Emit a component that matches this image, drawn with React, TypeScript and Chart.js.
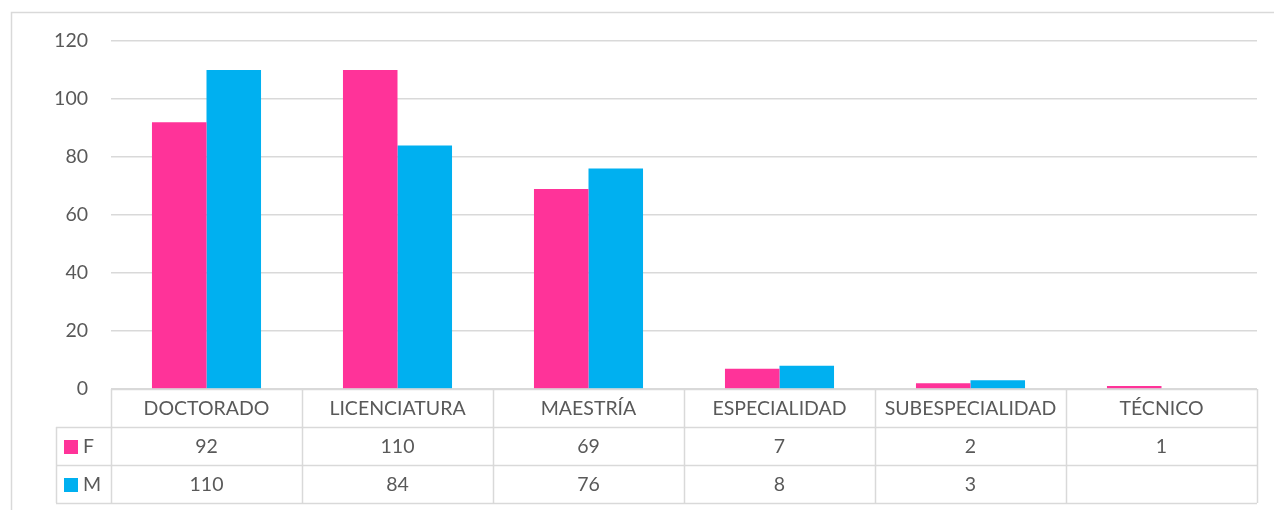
import React, { useEffect, useRef } from "react";
import { Chart, registerables } from "chart.js";

Chart.register(...registerables);

const categories = ["DOCTORADO", "LICENCIATURA", "MAESTRÍA", "ESPECIALIDAD", "SUBESPECIALIDAD", "TÉCNICO"];
const seriesF = [92, 110, 69, 7, 2, 1];
const seriesM = [110, 84, 76, 8, 3, null];
const seriesNames = ["F", "M"];
const seriesColors = ["#FF3399", "#00B0F0"];

const FONT = "Lato, 'Noto Sans', sans-serif";
const FONT_SIZE = 19.5;
const TEXT = "#595959";
const LINE = "#d9d9d9";

const tablePlugin = {
  id: "dataTable",
  afterDraw(chart: any) {
    const ctx = chart.ctx;
    const area = chart.chartArea;
    const xs = chart.scales.x;
    const left = area.left;
    const right = area.right;
    const top = area.bottom;
    const rowH = 38;
    const labelLeft = 56;
    const n = categories.length;
    const w = (right - left) / n;
    ctx.save();
    // outer chart border
    ctx.strokeStyle = LINE;
    ctx.lineWidth = 1.5;
    ctx.beginPath();
    ctx.moveTo(11.5, 510);
    ctx.lineTo(11.5, 12.5);
    ctx.lineTo(1274, 12.5);
    ctx.stroke();

    ctx.lineWidth = 1.5;
    ctx.strokeStyle = LINE;
    ctx.beginPath();
    ctx.moveTo(left, top + 0.5);
    ctx.lineTo(right, top + 0.5);
    for (let r = 1; r <= 3; r++) {
      const y = Math.round(top + r * rowH) + 0.5;
      ctx.moveTo(labelLeft, y);
      ctx.lineTo(right, y);
    }
    ctx.moveTo(labelLeft + 0.5, top + rowH);
    ctx.lineTo(labelLeft + 0.5, top + 3 * rowH);
    for (let k = 0; k <= n; k++) {
      const x = Math.round(left + k * w) + 0.5;
      ctx.moveTo(x, top);
      ctx.lineTo(x, top + 3 * rowH);
    }
    ctx.stroke();

    ctx.fillStyle = TEXT;
    ctx.font = `${FONT_SIZE}px ${FONT}`;
    ctx.textAlign = "center";
    ctx.textBaseline = "middle";
    categories.forEach((c, i) => {
      const cx = xs.getPixelForValue(i);
      ctx.fillText(c, cx, top + rowH / 2 + 1);
    });
    const rows = [seriesF, seriesM];
    rows.forEach((vals, r) => {
      const cy = top + rowH * (r + 1) + rowH / 2 + 1;
      vals.forEach((v, i) => {
        if (v === null || v === undefined) return;
        ctx.fillText(String(v), xs.getPixelForValue(i), cy);
      });
      ctx.fillStyle = seriesColors[r];
      ctx.fillRect(64, Math.round(cy - 7), 14, 14);
      ctx.fillStyle = TEXT;
      ctx.textAlign = "left";
      ctx.fillText(seriesNames[r], 83, cy);
      ctx.textAlign = "center";
    });
    ctx.restore();
  },
};

export default function App() {
  const ref = useRef<HTMLCanvasElement | null>(null);
  useEffect(() => {
    if (!ref.current) return;
    const chart = new Chart(ref.current, {
      type: "bar",
      data: {
        labels: categories,
        datasets: [
          {
            label: seriesNames[0],
            data: seriesF,
            backgroundColor: seriesColors[0],
            borderWidth: 0,
          },
          {
            label: seriesNames[1],
            data: seriesM,
            backgroundColor: seriesColors[1],
            borderWidth: 0,
          },
        ],
      },
      options: {
        responsive: false,
        animation: false,
        maintainAspectRatio: false,
        layout: { padding: { top: 41, bottom: 121, right: 17, left: 0 } },
        plugins: {
          legend: { display: false },
          tooltip: { enabled: false },
          title: { display: false },
        },
        datasets: { bar: { barPercentage: 1, categoryPercentage: 0.571 } },
        scales: {
          x: { display: false },
          y: {
            min: 0,
            max: 120,
            ticks: {
              stepSize: 20,
              color: TEXT,
              padding: 23,
              font: { family: FONT, size: FONT_SIZE },
            },
            border: { display: false },
            grid: { color: LINE, lineWidth: 1.5, drawTicks: false },
            afterFit: (scale: any) => {
              scale.width = 111;
            },
          },
        },
      },
      plugins: [tablePlugin],
    } as any);
    return () => chart.destroy();
  }, []);
  return (
    <div style={{ position: "absolute", left: 0, top: 0, width: 1274, height: 510, background: "#fff" }}>
      <canvas ref={ref} width={1274} height={510} style={{ width: 1274, height: 510 }} />
    </div>
  );
}
